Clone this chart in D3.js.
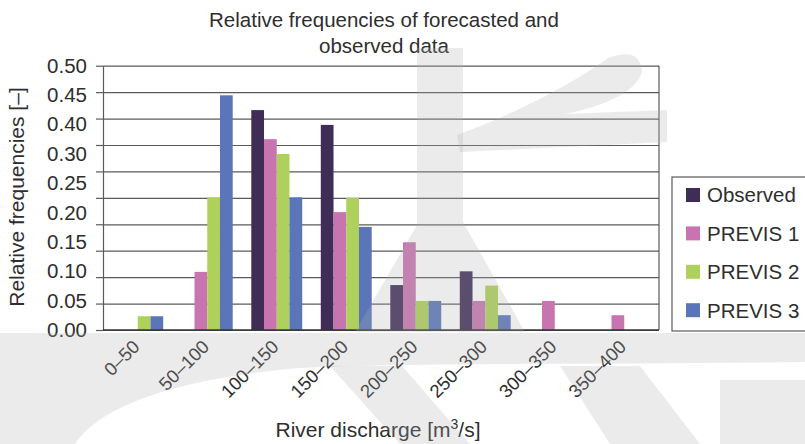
<!DOCTYPE html>
<html>
<head>
<meta charset="utf-8">
<script src="https://cdn.jsdelivr.net/npm/d3@7"></script>
<style>
  body { margin: 0; background: #fff; }
  svg { display: block; font-family: "Liberation Sans", Arial, Helvetica, sans-serif; }
</style>
</head>
<body>
<div id="chart"></div>
<script>
// Chart data
const categories = ['0–50', '50–100', '100–150', '150–200', '200–250', '250–300', '300–350', '350–400'];
const seriesNames = ['Observed', 'PREVIS 1', 'PREVIS 2', 'PREVIS 3'];
const observed = [0, 0, 0.416, 0.388, 0.085, 0.111, 0, 0];
const previs1 = [0, 0.110, 0.361, 0.223, 0.166, 0.055, 0.055, 0.028];
const previs2 = [0.026, 0.251, 0.333, 0.250, 0.055, 0.084, 0, 0];
const previs3 = [0.026, 0.444, 0.251, 0.195, 0.055, 0.028, 0, 0];
const seriesColors = ['#3f2d58', '#c874b0', '#aed15b', '#5a76b8'];
// tick labels exactly as printed in the figure (no 0.35)
const yTickLabels = ['0.00', '0.05', '0.10', '0.15', '0.20', '0.25', '0.30', '0.40', '0.45', '0.50'];
const gridValues = d3.range(0, 0.5001, 0.05);

const W = 805, H = 444;
const plot = { left: 103, right: 659, top: 65.7, bottom: 330 };
const textColor = '#2e2e2e';

const svg = d3.select('#chart').append('svg')
  .attr('width', W)
  .attr('height', H);

const x = d3.scaleBand()
  .domain(categories)
  .range([plot.left, plot.right]);

const xs = d3.scaleBand()
  .domain(seriesNames)
  .range([0, x.bandwidth()])
  .paddingOuter(0.73);

const y = d3.scaleLinear()
  .domain([0, 0.5])
  .range([plot.bottom, plot.top]);

// labels are spread evenly over the axis
const yLab = d3.scalePoint()
  .domain(yTickLabels)
  .range([y(0), y(0.5)]);

// Grid lines
svg.append('g')
  .attr('transform', `translate(${plot.left},0)`)
  .call(d3.axisLeft(y).tickValues(gridValues).tickSize(-(plot.right - plot.left)).tickFormat(''))
  .call(g => g.select('.domain').remove())
  .call(g => g.selectAll('line').attr('stroke', '#5a5a5a').attr('stroke-width', 1.2));

// Short outer ticks + axis line
svg.append('g')
  .attr('transform', `translate(${plot.left},0)`)
  .call(d3.axisLeft(y).tickValues(gridValues).tickSize(7).tickFormat('').tickSizeOuter(0))
  .call(g => g.select('.domain').attr('stroke', '#5a5a5a').attr('stroke-width', 1.2))
  .call(g => g.selectAll('line').attr('stroke', '#5a5a5a').attr('stroke-width', 1.2));

// Right border
svg.append('line')
  .attr('x1', plot.right).attr('x2', plot.right)
  .attr('y1', plot.top).attr('y2', plot.bottom)
  .attr('stroke', '#5a5a5a').attr('stroke-width', 1.2);

// Y tick labels
svg.append('g')
  .attr('transform', `translate(${plot.left},0)`)
  .call(d3.axisLeft(yLab).tickSize(0).tickPadding(16))
  .call(g => g.select('.domain').remove())
  .call(g => g.selectAll('text')
    .attr('font-size', 20.5)
    .attr('font-family', 'inherit')
    .attr('fill', textColor));

// Bars
const seriesValues = [observed, previs1, previs2, previs3];
seriesValues.forEach((values, si) => {
  svg.append('g')
    .selectAll('rect')
    .data(values)
    .join('rect')
    .attr('x', (d, i) => x(categories[i]) + xs(seriesNames[si]))
    .attr('y', d => y(d))
    .attr('width', xs.bandwidth())
    .attr('height', d => y(0) - y(d))
    .attr('fill', seriesColors[si]);
});

// Bottom axis line
svg.append('line')
  .attr('x1', plot.left).attr('x2', plot.right)
  .attr('y1', plot.bottom).attr('y2', plot.bottom)
  .attr('stroke', '#333').attr('stroke-width', 1.6);

// X tick labels, rotated
svg.append('g')
  .selectAll('text')
  .data(categories)
  .join('text')
  .attr('transform', d => `translate(${x(d) + x.bandwidth() / 2 + 3},348) rotate(-45)`)
  .attr('text-anchor', 'end')
  .attr('font-size', 18.5)
  .attr('fill', textColor)
  .text(d => d);

// Title
const title = svg.append('text')
  .attr('text-anchor', 'middle')
  .attr('font-size', 20.5)
  .attr('fill', textColor);
title.append('tspan').attr('x', 384).attr('y', 27).text('Relative frequencies of forecasted and');
title.append('tspan').attr('x', 384).attr('y', 53).text('observed data');

// Y axis title
svg.append('text')
  .attr('transform', 'translate(24,197) rotate(-90)')
  .attr('text-anchor', 'middle')
  .attr('font-size', 21)
  .attr('fill', textColor)
  .text('Relative frequencies [–]');

// X axis title
const xTitle = svg.append('text')
  .attr('x', 378)
  .attr('y', 437)
  .attr('text-anchor', 'middle')
  .attr('font-size', 21)
  .attr('fill', textColor);
xTitle.append('tspan').text('River discharge [m');
xTitle.append('tspan').attr('font-size', 14).attr('dy', -8).text('3');
xTitle.append('tspan').attr('dy', 8).text('/s]');

// Legend
const legend = svg.append('g').attr('transform', 'translate(672,177)');
legend.append('rect')
  .attr('width', 160)
  .attr('height', 154)
  .attr('fill', '#fff')
  .attr('stroke', '#5a5a5a')
  .attr('stroke-width', 1.2);
const legendItems = legend.selectAll('g.item')
  .data(seriesNames)
  .join('g')
  .attr('class', 'item')
  .attr('transform', (d, i) => `translate(14,${18 + i * 38.4})`);
legendItems.append('rect')
  .attr('y', -7)
  .attr('width', 14)
  .attr('height', 14)
  .attr('fill', (d, i) => seriesColors[i]);
legendItems.append('text')
  .attr('x', 21)
  .attr('dy', '0.36em')
  .attr('font-size', 20.5)
  .attr('fill', textColor)
  .text(d => d);

// Faint watermark drawn over the figure (background decoration of the source page)
const wm = svg.append('g')
  .attr('fill', '#b0b0b0')
  .attr('fill-opacity', 0.25)
  .attr('pointer-events', 'none');
wm.append('path').attr('d', 'M417,48 L463,48 L463,222 L525,332 L355,332 L417,225 Z');
wm.append('path').attr('d', 'M457,135 C520,112 575,82 608,58 Q640,46 642,72 C636,92 605,106 565,114 L667,110 L667,142 L460,152 Z');
wm.append('path').attr('d', 'M0,333 L805,333 L805,362 C600,365 420,362 300,368 C180,378 100,405 75,444 L0,444 Z');
wm.append('path').attr('d', 'M330,366 L402,366 L470,444 L400,444 Z');
wm.append('path').attr('d', 'M560,366 L640,366 L700,444 L610,444 Z');
wm.append('path').attr('d', 'M720,380 L805,380 L805,444 L720,444 Z');
</script>
</body>
</html>
